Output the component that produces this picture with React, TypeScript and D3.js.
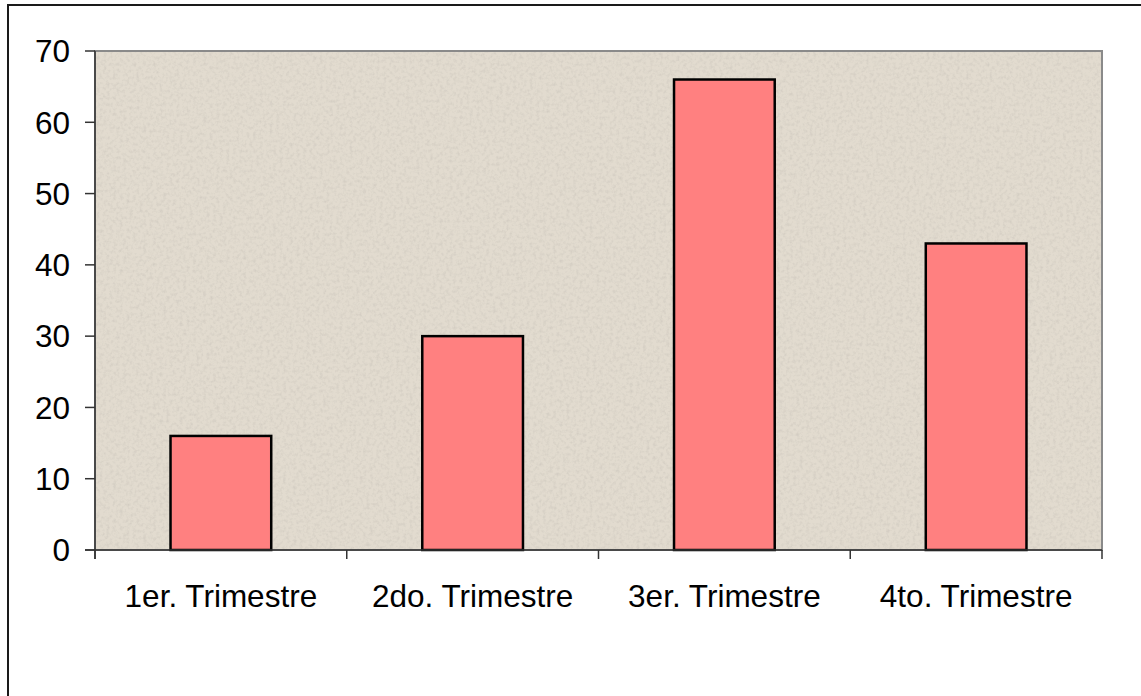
import React from "react";
import * as d3 from "d3";

const categories = ["1er. Trimestre", "2do. Trimestre", "3er. Trimestre", "4to. Trimestre"];
const values = [16, 30, 66, 43];
const yTicks = [0, 10, 20, 30, 40, 50, 60, 70];

const W = 1141;
const H = 696;
const plot = { left: 95, right: 1102, top: 51, bottom: 550 };
const font = "'Liberation Sans', Arial, sans-serif";
const fs = 31.5;

export default function App() {
  const x = d3
    .scaleBand<string>()
    .domain(categories)
    .range([plot.left, plot.right])
    .paddingInner(0)
    .paddingOuter(0);
  const y = d3.scaleLinear().domain([0, 70]).range([plot.bottom, plot.top]);
  const bw = x.bandwidth() * 0.4;
  const boundaries = [...categories.map((c) => x(c) as number), plot.right];

  return (
    <svg
      width={W}
      height={H}
      style={{ position: "absolute", left: 0, top: 0, background: "#fff" }}
    >
      <defs>
        <filter id="stone" x="0" y="0" width="100%" height="100%">
          <feTurbulence type="fractalNoise" baseFrequency="0.3" numOctaves="3" seed="4" result="n" />
          <feColorMatrix
            in="n"
            type="matrix"
            values="0 0 0 0 0.62  0 0 0 0 0.58  0 0 0 0 0.52  0 0 0 -1.6 0.9"
            result="dots"
          />
          <feComposite in="dots" in2="SourceGraphic" operator="in" result="d2" />
          <feMerge>
            <feMergeNode in="SourceGraphic" />
            <feMergeNode in="d2" />
          </feMerge>
        </filter>
      </defs>
      {/* outer chart border */}
      <rect x={8} y={5} width={W + 20} height={H + 20} fill="#fff" stroke="#1a1a1a" strokeWidth={2} />

      {/* plot area */}
      <rect
        x={plot.left}
        y={plot.top}
        width={plot.right - plot.left}
        height={plot.bottom - plot.top}
        fill="#e2dbcf"
        filter="url(#stone)"
      />
      <rect
        x={plot.left}
        y={plot.top}
        width={plot.right - plot.left}
        height={plot.bottom - plot.top}
        fill="none"
        stroke="#8a8a8a"
        strokeWidth={2}
      />

      {/* bars */}
      {categories.map((c, i) => {
        const cx = (x(c) as number) + x.bandwidth() / 2;
        return (
          <rect
            key={c}
            x={cx - bw / 2}
            y={y(values[i])}
            width={bw}
            height={y(0) - y(values[i])}
            fill="#ff8080"
            stroke="#000"
            strokeWidth={2.5}
          />
        );
      })}

      {/* y axis */}
      <line x1={plot.left} x2={plot.left} y1={plot.top} y2={plot.bottom + 9} stroke="#333" strokeWidth={1.5} />
      {yTicks.map((t) => (
        <g key={t}>
          <line x1={plot.left - 10} x2={plot.left} y1={y(t)} y2={y(t)} stroke="#333" strokeWidth={1.5} />
          <text
            x={70}
            y={y(t)}
            dy="0.36em"
            textAnchor="end"
            fontFamily={font}
            fontSize={fs}
            fill="#000"
          >
            {t}
          </text>
        </g>
      ))}

      {/* x axis */}
      <line x1={plot.left - 10} x2={plot.right} y1={plot.bottom} y2={plot.bottom} stroke="#333" strokeWidth={1.5} />
      {boundaries.map((b, i) => (
        <line key={i} x1={b} x2={b} y1={plot.bottom} y2={plot.bottom + 9} stroke="#333" strokeWidth={1.5} />
      ))}
      {categories.map((c) => (
        <text
          key={c}
          x={(x(c) as number) + x.bandwidth() / 2}
          y={607}
          textAnchor="middle"
          fontFamily={font}
          fontSize={fs}
          fill="#000"
        >
          {c}
        </text>
      ))}
    </svg>
  );
}
